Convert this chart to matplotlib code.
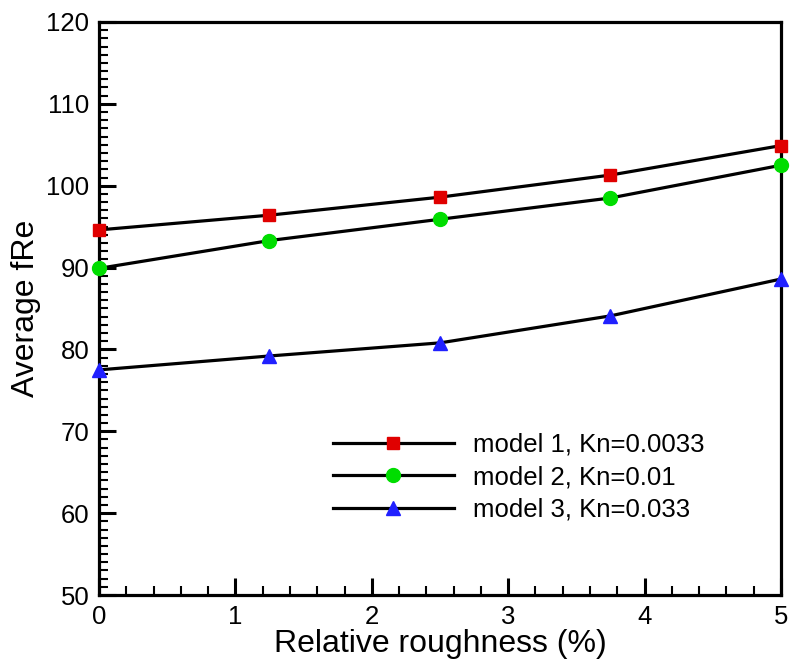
import matplotlib
matplotlib.use("Agg")
import matplotlib.pyplot as plt
from matplotlib.ticker import MultipleLocator

plt.rcParams['font.family'] = ['Liberation Sans', 'DejaVu Sans']

# relative roughness (%)
roughness = [0, 1.25, 2.5, 3.75, 5]
# average fRe for each model
model1 = [94.6, 96.4, 98.6, 101.3, 104.9]
model2 = [89.9, 93.3, 95.9, 98.5, 102.5]
model3 = [77.5, 79.2, 80.8, 84.1, 88.6]
labels = ['model 1, Kn=0.0033', 'model 2, Kn=0.01', 'model 3, Kn=0.033']

fig = plt.figure(figsize=(7.9, 6.62), dpi=100)
ax = fig.add_axes([0.1253, 0.1012, 0.8633, 0.8656])

ax.plot(roughness, model1, color='black', lw=2.3, marker='s', ms=8.5,
        mfc='#e00000', mec='#e00000', label=labels[0], clip_on=False, zorder=3)
ax.plot(roughness, model2, color='black', lw=2.3, marker='o', ms=10,
        mfc='#00dd00', mec='#00dd00', label=labels[1], clip_on=False, zorder=3)
ax.plot(roughness, model3, color='black', lw=2.3, marker='^', ms=10,
        mfc='#2020ff', mec='#2020ff', label=labels[2], clip_on=False, zorder=3)

ax.set_xlim(0, 5)
ax.set_ylim(50, 120)
ax.xaxis.set_major_locator(MultipleLocator(1))
ax.xaxis.set_minor_locator(MultipleLocator(0.2))
ax.yaxis.set_major_locator(MultipleLocator(10))
ax.yaxis.set_minor_locator(MultipleLocator(1))
ax.tick_params(which='both', direction='in', top=False, right=False, labelsize=18.5, pad=7)
ax.tick_params(which='major', length=12, width=2.2)
ax.tick_params(which='minor', length=6.5, width=1.5)
for s in ax.spines.values():
    s.set_linewidth(2.3)

ax.set_xlabel('Relative roughness (%)', fontsize=23, labelpad=0)
ax.set_ylabel('Average fRe', fontsize=23, labelpad=4)

ax.legend(loc='upper left', bbox_to_anchor=(0.343, 0.283), frameon=False,
          fontsize=18.5, handlelength=4.7, handletextpad=0.75, labelspacing=0.33,
          borderpad=0, borderaxespad=0)

fig.savefig('out.png', dpi=100)
